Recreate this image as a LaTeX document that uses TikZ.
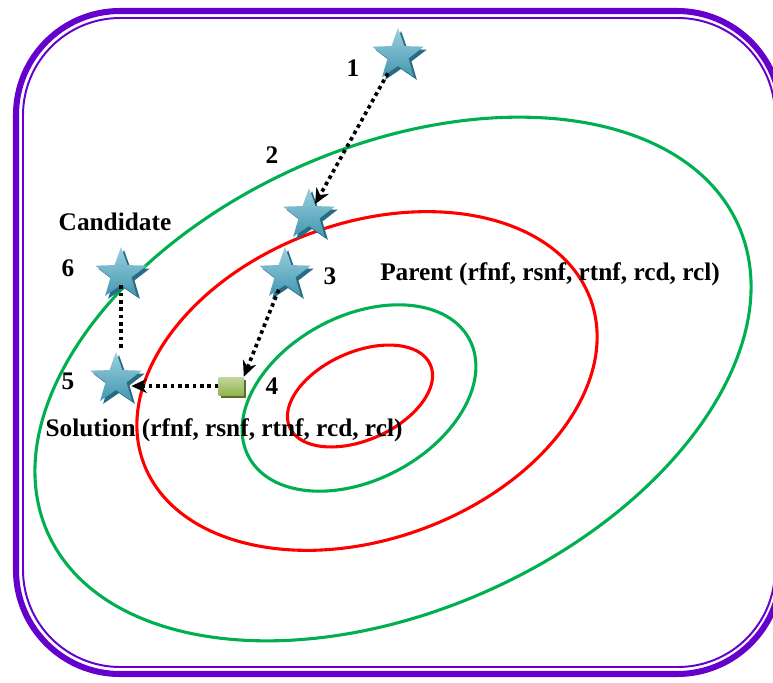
\documentclass[tikz,border=0pt]{standalone}
\usepackage{fontspec}
\setmainfont{Liberation Serif}
\usepackage{xcolor}
\usetikzlibrary{arrows.meta,shapes.geometric}
\definecolor{framec}{RGB}{102,0,204}
\definecolor{ringg}{RGB}{0,176,80}
\definecolor{ringr}{RGB}{255,0,0}
\definecolor{starc}{RGB}{75,168,196}
\definecolor{stard}{RGB}{38,108,132}
\definecolor{boxc}{RGB}{145,180,80}
\definecolor{boxd}{RGB}{90,112,40}
\tikzset{
  ring/.style   ={line width=2.2pt},
  pt/.style     ={star,star points=5,star point ratio=2.45,minimum size=1.35cm,inner sep=0pt,
                  top color=starc!55!white,bottom color=starc!90!black},
  ptshade/.style={star,star points=5,star point ratio=2.45,minimum size=1.35cm,inner sep=0pt,fill=stard},
  cand/.style   ={rectangle,minimum width=0.625cm,minimum height=0.45cm,inner sep=0pt,
                  top color=boxc!55!white,bottom color=boxc},
  candshade/.style={rectangle,minimum width=0.625cm,minimum height=0.45cm,inner sep=0pt,fill=boxd},
  flow/.style   ={line width=2.6pt,dash pattern=on 2.6pt off 2.6pt,-{Stealth[length=11pt,width=10pt]}},
  link/.style   ={line width=2.6pt,dash pattern=on 2.6pt off 2.6pt},
  lbl/.style    ={font=\fontsize{18}{20}\selectfont\bfseries,inner sep=1pt},
}
\begin{document}
\begin{tikzpicture}[x=0.025cm,y=-0.025cm]
  \useasboundingbox (0,0) rectangle (773,682);
  \clip (0,0) rectangle (773,682);
  % double frame
  \draw[framec,line width=4.3pt,rounded corners=2.6cm] (16,11) rectangle (781,674);
  \draw[framec,line width=1.4pt,rounded corners=2.43cm] (23,18) rectangle (775,667);
  % search rings
  \draw[ringg,ring,rotate around={24:(393,379)}] (393,379) ellipse [x radius=378,y radius=232];
  \draw[ringr,ring,rotate around={20:(367,381)}] (367,381) ellipse [x radius=238,y radius=158];
  \draw[ringg,ring,rotate around={28:(359,398)}] (359,398) ellipse [x radius=125,y radius=82];
  \draw[ringr,ring,rotate around={24:(360,396)}] (360,396) ellipse [x radius=77,y radius=44];
  % stars (shadow first)
  \node[ptshade] (s1b) at (401,58) {};
  \node[pt] (s1) at (398,55) {};
  \node[ptshade] (s2b) at (312,218) {};
  \node[pt] (s2) at (309,215) {};
  \node[ptshade] (s3b) at (288,277) {};
  \node[pt] (s3) at (285,274) {};
  \node[ptshade] (s6b) at (124,277) {};
  \node[pt] (s6) at (121,274) {};
  \node[ptshade] (s5b) at (119,382) {};
  \node[pt] (s5) at (116,379) {};
  % candidate box
  \node[candshade] (sqb) at (233,389) {};
  \node[cand] (sq) at (231,386) {};
  % moves
  \draw[flow] (s1) -- (s2);
  \draw[flow] (s3) -- (sq.north east);
  \draw[flow] (sq.west) -- (s5.east |- sq.west);
  \draw[link] (s6.inner point 3) -- (s6.inner point 3 |- s5.outer point 1);
  % numbers
  \node[lbl] (n1) at (353,68) {1};
  \node[lbl] (n2) at (272,155) {2};
  \node[lbl] (n3) at (330,276) {3};
  \node[lbl] (n4) at (272,386) {4};
  \node[lbl] (n5) at (68,381) {5};
  \node[lbl] (n6) at (68,268) {6};
  % texts
  \node[lbl] (cnd) at (115,222) {Candidate};
  \node[lbl] (par) at (550,274) {Parent (rfnf, rsnf, rtnf, rcd, rcl)};
  \node[lbl] (sol) at (224,430) {Solution (rfnf, rsnf, rtnf, rcd, rcl)};
\end{tikzpicture}
\end{document}
